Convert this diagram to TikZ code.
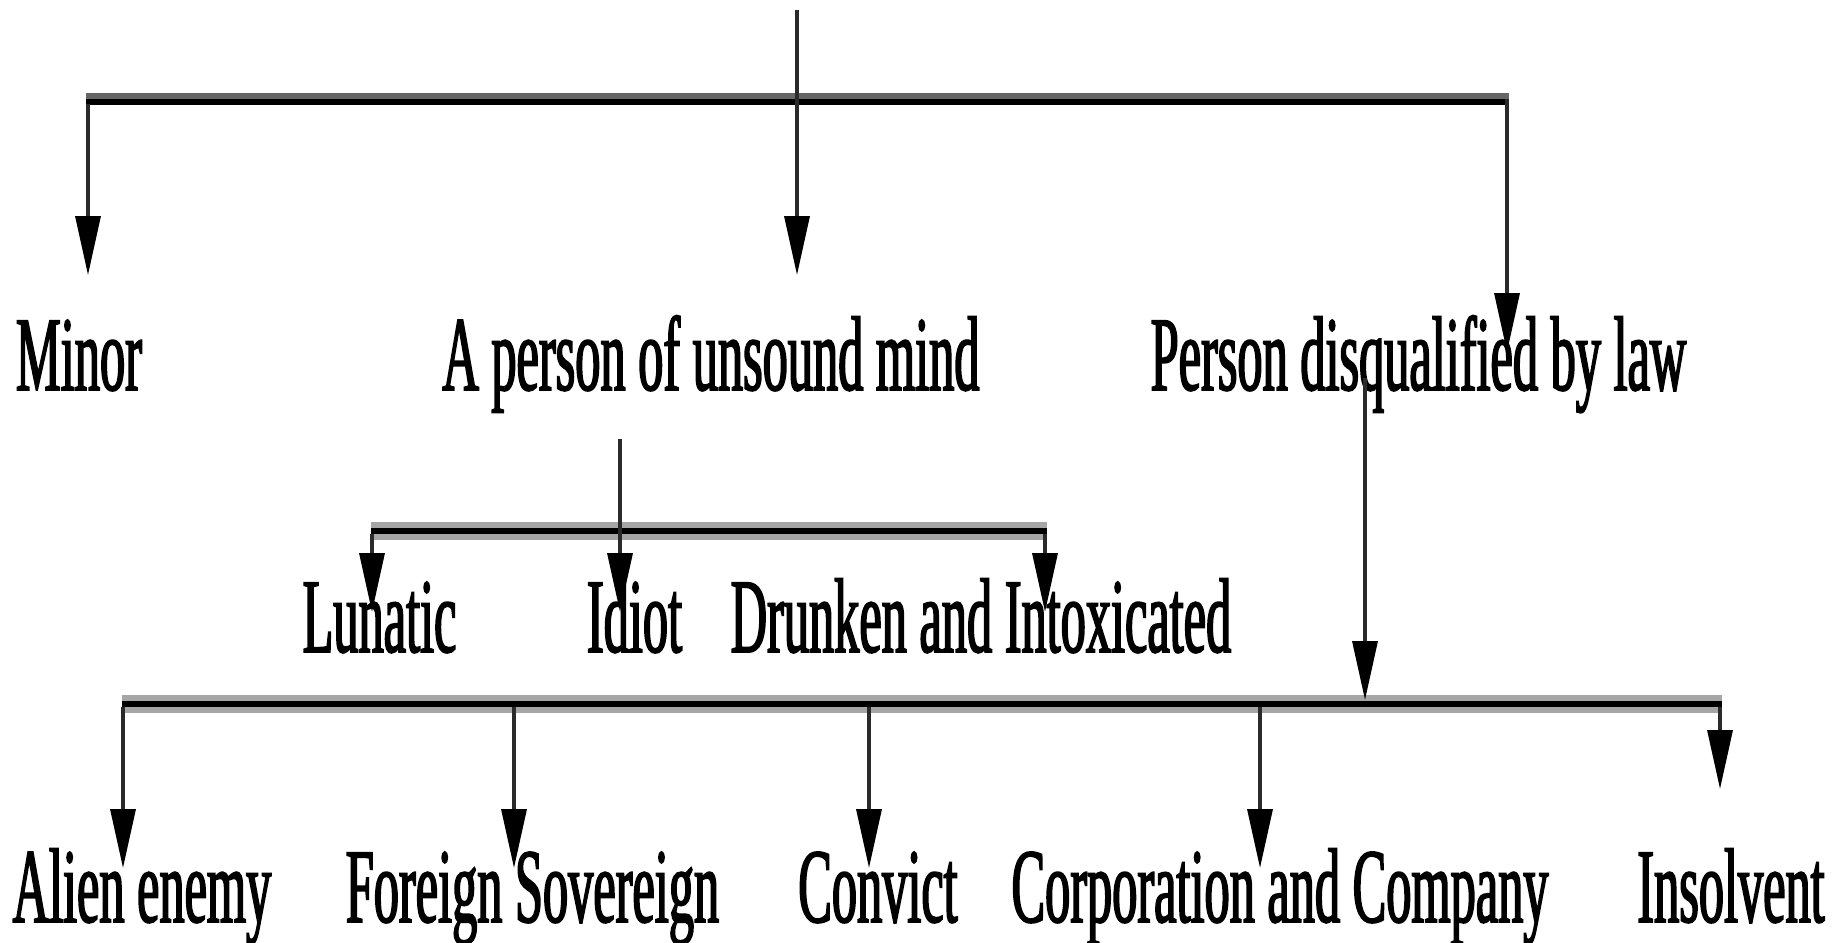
\documentclass[tikz,border=0pt]{standalone}
\usepackage{fontspec}
\usetikzlibrary{arrows.meta}
\newfontfamily\condfont{Liberation Serif}[FakeStretch=0.475,FakeBold=1.5]
\definecolor{barshade}{HTML}{666666}
\definecolor{barlight}{HTML}{A6A6A6}
\definecolor{stemgray}{HTML}{2A2A2A}
\tikzset{
  lbl/.style={font=\condfont\fontsize{106}{110}\selectfont, anchor=base, inner sep=0pt},
  conn/.style={line width=3.4pt, draw=stemgray},
  arr/.style={conn, -{Triangle[width=25pt,length=59pt,color=black,fill=black]}},
}
\begin{document}
\begin{tikzpicture}[x=1pt,y=-1pt]
\useasboundingbox[fill=white] (0,0) rectangle (1843,942);

% labels
\node[lbl] (minor)  at (79,390)     {Minor};
\node[lbl] (unsound) at (711,390)   {A person of unsound mind};
\node[lbl] (disq)   at (1418.5,390) {Person disqualified by law};
\node[lbl] (lunatic) at (379.5,652) {Lunatic};
\node[lbl] (idiot)  at (634.5,652)  {Idiot};
\node[lbl] (drunk)  at (981,652)    {Drunken and Intoxicated};
\node[lbl] (alien)  at (142,922)    {Alien enemy};
\node[lbl] (foreign) at (532.5,922) {Foreign Sovereign};
\node[lbl] (convict) at (878,922)   {Convict};
\node[lbl] (corp)   at (1280,922)   {Corporation and Company};
\node[lbl] (insolv) at (1731,922)   {Insolvent};

% junction points and arrow tips
\coordinate (root)    at (797,10);
\coordinate (topL)    at (88,104);
\coordinate (topR)    at (1507,99);
\coordinate (tMinor)  at (88,275);
\coordinate (tUnsound) at (797,275);
\coordinate (tDisq)   at (1507,352);

\coordinate (unsStem) at (620,439);
\coordinate (midL)    at (372,534);
\coordinate (midR)    at (1045,534);
\coordinate (tLunatic) at (372,612);
\coordinate (tIdiot)  at (620,612);
\coordinate (tDrunk)  at (1045,612);

\coordinate (disqStem) at (1365,378);
\coordinate (tBar)    at (1365,700);
\coordinate (botA)    at (123,707);
\coordinate (botF)    at (514,707);
\coordinate (botC)    at (869,707);
\coordinate (botK)    at (1260,707);
\coordinate (botI)    at (1720,707);
\coordinate (tAlien)  at (123,868);
\coordinate (tForeign) at (514,868);
\coordinate (tConvict) at (869,868);
\coordinate (tCorp)   at (1260,868);
\coordinate (tInsolv) at (1720,789);

% bars
\fill[barshade] (86,93) rectangle (1509,99);
\fill[black]    (86,99) rectangle (1509,105);

\fill[barlight] (371,522) rectangle (1047,540);
\fill[black]    (371,528) rectangle (1047,534);

\fill[barlight] (122,695) rectangle (1722,713);
\fill[black]    (122,701) rectangle (1722,707);

% connectors, first level
\draw[arr] (root) -- (tUnsound);
\draw[arr] (topL) -- (tMinor);
\draw[arr] (topR) -- (tDisq);

% second level
\draw[arr] (unsStem) -- (tIdiot);
\draw[arr] (midL) -- (tLunatic);
\draw[arr] (midR) -- (tDrunk);

% disqualified branch
\draw[arr] (disqStem) -- (tBar);
\draw[arr] (botA) -- (tAlien);
\draw[arr] (botF) -- (tForeign);
\draw[arr] (botC) -- (tConvict);
\draw[arr] (botK) -- (tCorp);
\draw[arr] (botI) -- (tInsolv);
\end{tikzpicture}
\end{document}
